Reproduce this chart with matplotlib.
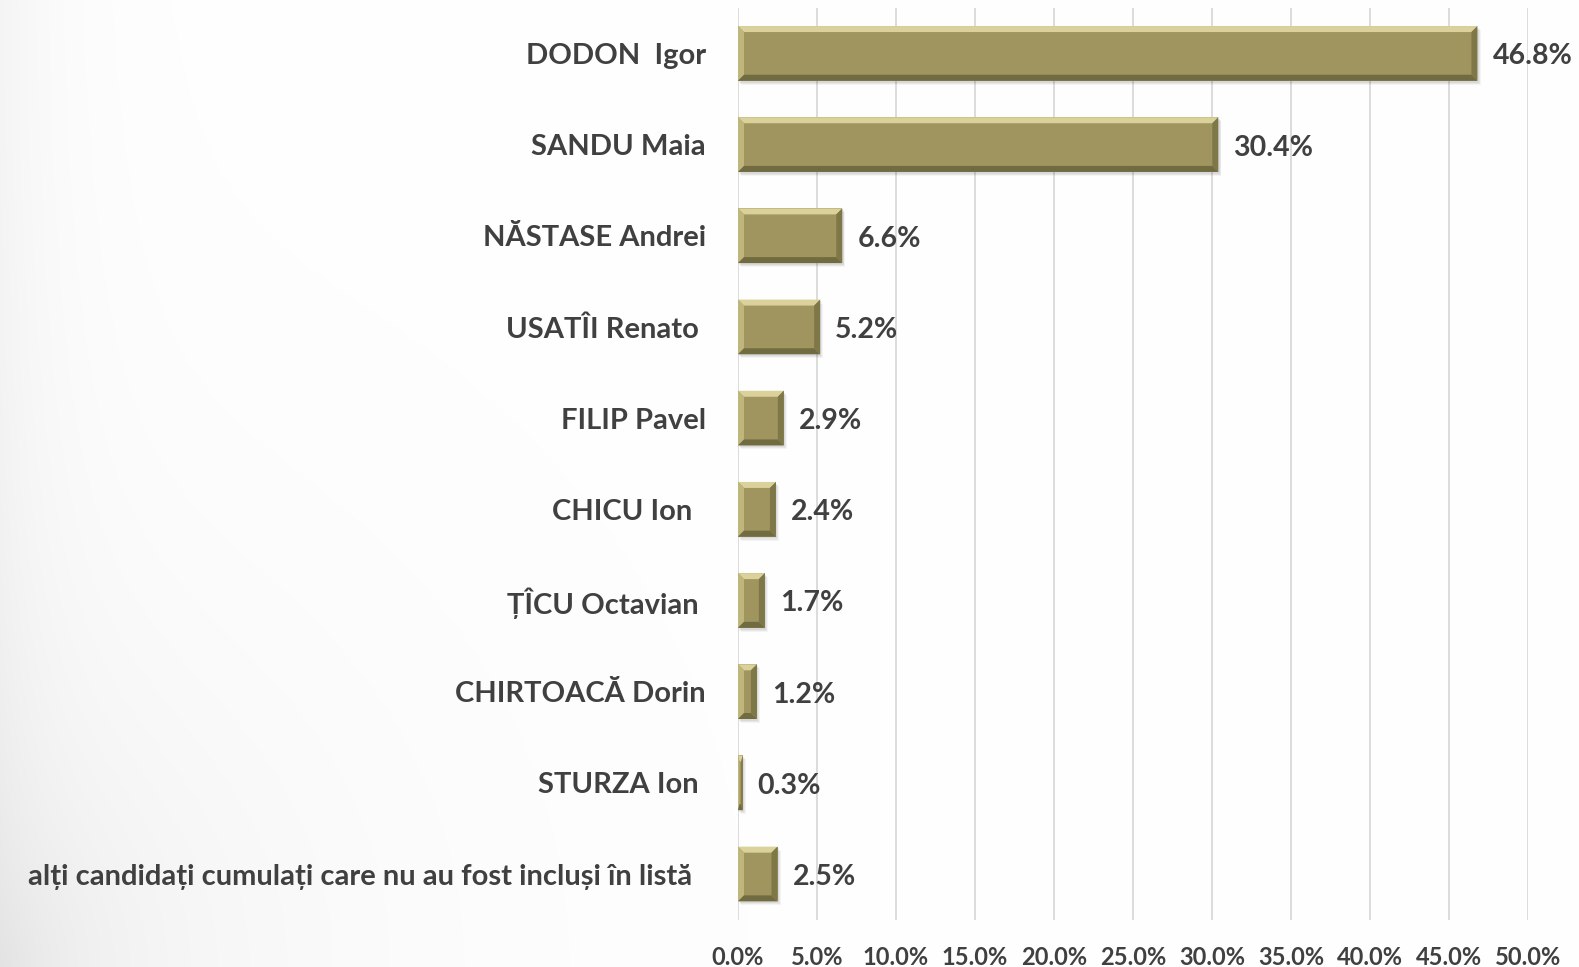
import numpy as np
import matplotlib
matplotlib.use("Agg")
import matplotlib.pyplot as plt
from matplotlib.patches import Polygon

categories = [
    "DODON  Igor",
    "SANDU Maia",
    "NĂSTASE Andrei",
    "USATÎI Renato ",
    "FILIP Pavel",
    "CHICU Ion  ",
    "ȚÎCU Octavian ",
    "CHIRTOACĂ Dorin",
    "STURZA Ion ",
    "alți candidați cumulați care nu au fost incluși în listă  ",
]
values = [46.8, 30.4, 6.6, 5.2, 2.9, 2.4, 1.7, 1.2, 0.3, 2.5]
value_labels = ["46.8%", "30.4%", "6.6%", "5.2%", "2.9%", "2.4%", "1.7%", "1.2%", "0.3%", "2.5%"]
xticks = [0, 5, 10, 15, 20, 25, 30, 35, 40, 45, 50]
xtick_labels = ["0.0%", "5.0%", "10.0%", "15.0%", "20.0%", "25.0%", "30.0%", "35.0%", "40.0%", "45.0%", "50.0%"]

W, H = 1579, 967
fig = plt.figure(figsize=(W / 100, H / 100), dpi=100)
fig.patch.set_facecolor("white")

# subtle background shading on the left
bg = fig.add_axes([0, 0, 1, 1], zorder=-10)
xx, yy = np.meshgrid(np.arange(W), np.arange(H))
d = np.sqrt(xx ** 2 + (H - yy) ** 2)
g = 1 - 0.04 * np.exp(-xx / 60.0) - 0.07 * np.exp(-d / 260.0)
bg.imshow(np.dstack([g, g, g]), aspect="auto", extent=[0, 1, 0, 1], vmin=0, vmax=1)
bg.axis("off")

ax = fig.add_axes([738 / W, 1 - 919.6 / H, (1528 - 738) / W, (919.6 - 7.8) / H])
ax.set_facecolor("none")

n = len(categories)
ypos = np.arange(n)
bh = 0.6
ax.set_xlim(0, 50)
ax.set_ylim(n - 0.5, -0.5)

base = "#A0955F"
light_top = "#DAD29A"
light_left = "#BFB67C"
dark_bot = "#716B41"
dark_right = "#7E7748"

# soft shadow
for k, a in enumerate([0.06, 0.05, 0.04]):
    ax.barh(ypos + 0.02 + 0.012 * k, values, height=bh, left=0.08 + 0.06 * k,
            color="#000000", alpha=a, zorder=2, linewidth=0)
ax.barh(ypos, values, height=bh, color=base, zorder=3, linewidth=0)

px_x = 50 / 790.0  # data units per pixel (x)
px_y = 1 / 91.2   # data units per pixel (y)
for y, v in zip(ypos, values):
    bx = min(6 * px_x, v / 3)
    by = 6 * px_y
    y0, y1 = y - bh / 2, y + bh / 2
    top = [(0, y0), (v, y0), (v - bx, y0 + by), (bx, y0 + by)]
    bot = [(0, y1), (v, y1), (v - bx, y1 - by), (bx, y1 - by)]
    left = [(0, y0), (bx, y0 + by), (bx, y1 - by), (0, y1)]
    right = [(v, y0), (v - bx, y0 + by), (v - bx, y1 - by), (v, y1)]
    ax.add_patch(Polygon(top, closed=True, color=light_top, lw=0, zorder=4))
    ax.add_patch(Polygon(left, closed=True, color=light_left, lw=0, zorder=4))
    ax.add_patch(Polygon(bot, closed=True, color=dark_bot, lw=0, zorder=4))
    ax.add_patch(Polygon(right, closed=True, color=dark_right, lw=0, zorder=4))

font = "Lato"
tc = "#404040"
for y, v, lab in zip(ypos, values, value_labels):
    ax.text(v + 15 * px_x, y + 3 * px_y, lab, va="center", ha="left", fontsize=20.5,
            fontweight="bold", color=tc, family=font, zorder=5)

ax.set_yticks(ypos)
ax.set_yticklabels(categories, fontsize=21, fontweight="bold", color=tc, family=font)
ax.set_xticks(xticks)
ax.set_xticklabels(xtick_labels, fontsize=17, fontweight="bold", color=tc, family=font)
ax.tick_params(axis="y", length=0, pad=23)
ax.tick_params(axis="x", length=0, pad=19)
ax.grid(axis="x", color="#D9D9D9", linewidth=1.3, zorder=0)
ax.set_axisbelow(True)
for s in ax.spines.values():
    s.set_visible(False)

fig.savefig("out.png", dpi=100, facecolor=fig.get_facecolor())
